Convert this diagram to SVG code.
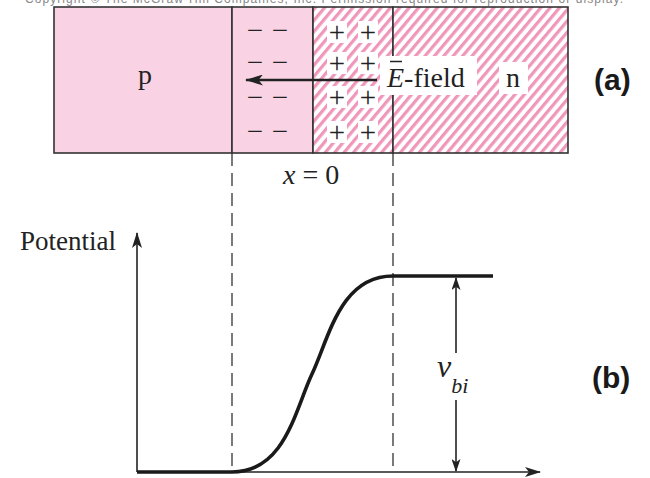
<svg xmlns="http://www.w3.org/2000/svg" width="650" height="478" viewBox="0 0 650 478">
<style>
.serif{font-family:"Liberation Serif","Times New Roman",serif;fill:#222}
.sign{font-family:"Liberation Serif","Times New Roman",serif;font-size:29px;fill:#222;text-anchor:middle}
.lab{font-family:"Liberation Sans",Arial,sans-serif;font-weight:bold;font-size:30px;fill:#1a1a1a}
.box{stroke:#333;stroke-width:1.6}
.dash{stroke:#333;stroke-width:1.3;stroke-dasharray:13 7;fill:none}
.axis{stroke:#222;stroke-width:1.6;fill:none}
.wb{fill:#fff}
</style>
<defs>
<pattern id="hatch" patternUnits="userSpaceOnUse" width="7.2" height="7.2" patternTransform="rotate(40)">
<rect width="7.2" height="7.2" fill="#fff"/>
<rect x="0" y="0" width="3.2" height="7.2" fill="#f096ba"/>
</pattern>
<marker id="ahb" viewBox="0 0 18 11" refX="17" refY="5.5" markerWidth="18" markerHeight="11" markerUnits="userSpaceOnUse" orient="auto">
<path d="M0,0 L18,5.5 L0,11 L4.5,5.5 Z" fill="#222"/>
</marker>
<marker id="ah" viewBox="0 0 16 10" refX="15" refY="5" markerWidth="16" markerHeight="10" markerUnits="userSpaceOnUse" orient="auto">
<path d="M0,0 L16,5 L0,10 L4,5 Z" fill="#222"/>
</marker>
<marker id="ahs" viewBox="0 0 13 9" refX="12" refY="4.5" markerWidth="13" markerHeight="9" markerUnits="userSpaceOnUse" orient="auto">
<path d="M0,0 L13,4.5 L0,9 L3.2,4.5 Z" fill="#222"/>
</marker>
</defs>
<rect width="650" height="478" fill="#fff"/>
<text x="25" y="3" font-family="Liberation Sans, Arial, sans-serif" font-size="12" fill="#888" textLength="598">Copyright © The McGraw-Hill Companies, Inc. Permission required for reproduction or display.</text>

<g id="p-region">
<rect class="box" x="54" y="7" width="178" height="146" fill="#f9d3e4"/>
<text class="serif" x="138" y="84" font-size="28">p</text>
</g>
<g id="depletion-p">
<rect class="box" x="232" y="7" width="81" height="146" fill="#f9d3e4"/>
<text class="sign" x="255" y="39.5">−</text><text class="sign" x="280" y="39.5">−</text>
<text class="sign" x="255" y="71.5">−</text><text class="sign" x="280" y="71.5">−</text>
<text class="sign" x="255" y="106.5">−</text><text class="sign" x="280" y="106.5">−</text>
<text class="sign" x="255" y="140.5">−</text><text class="sign" x="280" y="140.5">−</text>
</g>
<g id="depletion-n">
<rect class="box" x="313" y="7" width="80" height="146" fill="url(#hatch)"/>
<rect class="wb" x="327" y="21" width="20" height="22"/><rect class="wb" x="358" y="21" width="20" height="22"/>
<rect class="wb" x="327" y="52" width="20" height="22"/><rect class="wb" x="358" y="52" width="20" height="22"/>
<rect class="wb" x="327" y="86" width="20" height="22"/><rect class="wb" x="358" y="86" width="20" height="22"/>
<rect class="wb" x="327" y="121" width="20" height="22"/><rect class="wb" x="358" y="121" width="20" height="22"/>
<text class="sign" x="337" y="42">+</text><text class="sign" x="368" y="42">+</text>
<text class="sign" x="337" y="73">+</text><text class="sign" x="368" y="73">+</text>
<text class="sign" x="337" y="107">+</text><text class="sign" x="368" y="107">+</text>
<text class="sign" x="337" y="142">+</text><text class="sign" x="368" y="142">+</text>
</g>
<g id="n-region">
<rect class="box" x="393" y="7" width="175" height="146" fill="url(#hatch)"/>
<rect class="wb" x="499" y="62" width="29" height="32"/>
<text class="serif" x="506" y="87" font-size="28">n</text>
</g>
<g id="e-field">
<rect class="wb" x="380" y="56" width="97" height="39"/>
<line x1="390" y1="61.5" x2="402" y2="61.5" stroke="#222" stroke-width="1.5"/>
<text class="serif" x="387" y="87" font-size="28"><tspan font-style="italic">E</tspan>-field</text>
</g>
<g id="connectors">
<line x1="377" y1="80" x2="246" y2="80" stroke="#222" stroke-width="2.6" marker-end="url(#ahb)"/>
<line class="dash" x1="232" y1="153" x2="232" y2="472"/>
<line class="dash" x1="393" y1="153" x2="393" y2="472"/>
<line class="axis" x1="137" y1="472" x2="137" y2="233" marker-end="url(#ah)"/>
<line class="axis" x1="137" y1="472" x2="540" y2="472" marker-end="url(#ah)"/>
<path d="M137,472 L232,472 C285,472 295,410 312,374 C329,338 340,276 393,276 L493,276" fill="none" stroke="#1a1a1a" stroke-width="3.6"/>
<line class="axis" x1="456" y1="353" x2="456" y2="278" stroke-width="1.4" marker-end="url(#ahs)"/>
<line class="axis" x1="456" y1="400" x2="456" y2="471" stroke-width="1.4" marker-end="url(#ahs)"/>
</g>
<g id="labels">
<text class="serif" x="283" y="184" font-size="28"><tspan font-style="italic">x</tspan> = 0</text>
<text class="serif" x="20" y="250" font-size="27">Potential</text>
<text class="serif" x="437" y="377" font-size="32" font-style="italic">v<tspan font-size="22" dy="16">bi</tspan></text>
<text class="lab" x="594" y="90">(a)</text>
<text class="lab" x="592" y="388">(b)</text>
</g>
</svg>
